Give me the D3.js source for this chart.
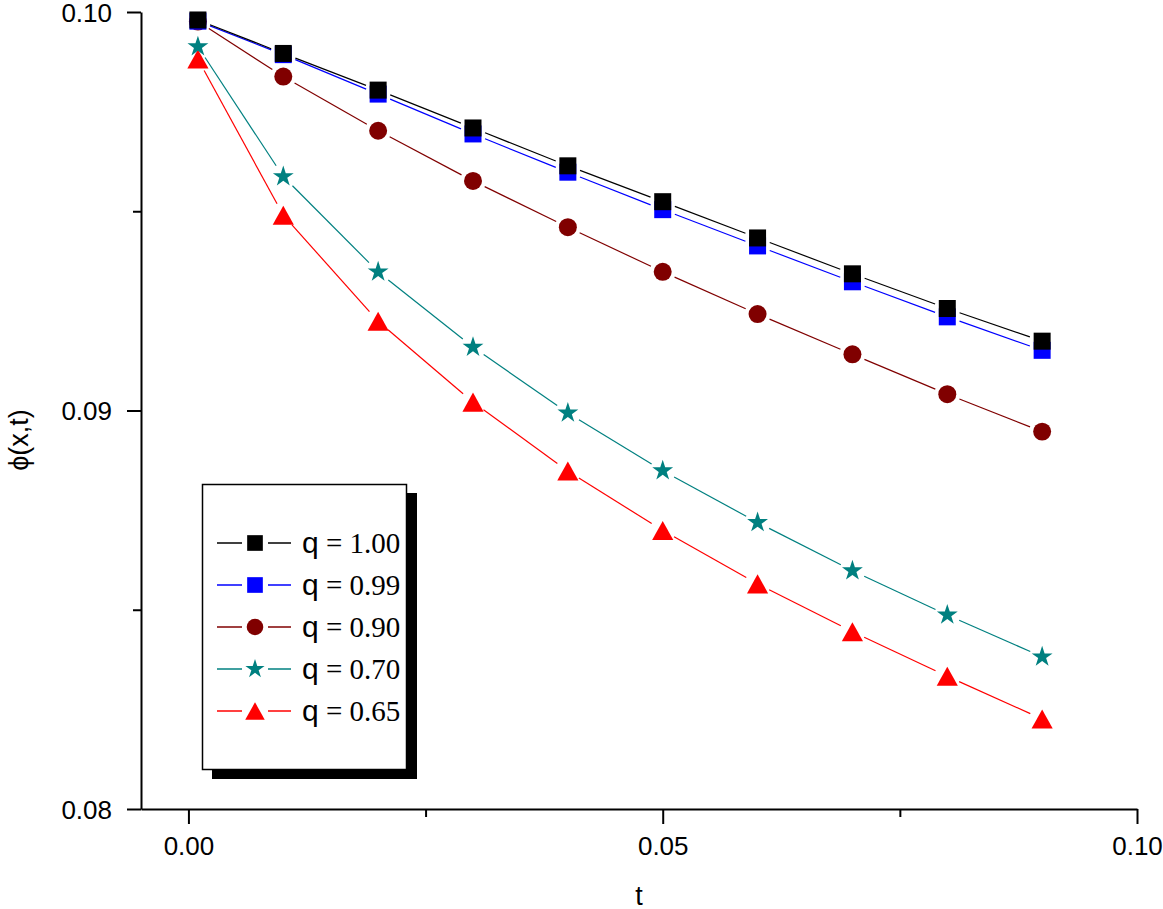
<!DOCTYPE html>
<html>
<head>
<meta charset="utf-8">
<script src="https://cdn.jsdelivr.net/npm/d3@7"></script>
<style>
  body { margin: 0; background: #fff; }
  svg { display: block; }
</style>
</head>
<body>
<svg id="chart" width="1163" height="909"></svg>
<script>
// data
const tValues = [0.001, 0.01, 0.02, 0.03, 0.04, 0.05, 0.06, 0.07, 0.08, 0.09];
const phiQ100 = [0.09980, 0.09896, 0.09804, 0.09709, 0.09614, 0.09524, 0.09433, 0.09343, 0.09256, 0.09174];
const phiQ099 = [0.09977, 0.09893, 0.09794, 0.09694, 0.09598, 0.09504, 0.09413, 0.09323, 0.09235, 0.09151];
const phiQ090 = [0.09976, 0.09838, 0.09702, 0.09576, 0.09460, 0.09348, 0.09242, 0.09141, 0.09041, 0.08947];
const phiQ070 = [0.09913, 0.09587, 0.09348, 0.09159, 0.08994, 0.08849, 0.08719, 0.08598, 0.08487, 0.08382];
const phiQ065 = [0.09882, 0.09490, 0.09224, 0.09021, 0.08848, 0.08699, 0.08565, 0.08445, 0.08333, 0.08226];

const seriesNames = ["q = 1.00", "q = 0.99", "q = 0.90", "q = 0.70", "q = 0.65"];
const xTicks = [0.00, 0.05, 0.10];
const xMinorTicks = [0.025, 0.075];
const yTicks = [0.08, 0.09, 0.10];
const yMinorTicks = [0.085, 0.095];

// triangle centred on its bounding box (Origin style)
const triangleBox = {
  draw(ctx, size) {
    const w = Math.sqrt(size * 1.15), h = w * 0.9;
    ctx.moveTo(0, -h / 2);
    ctx.lineTo(w / 2, h / 2);
    ctx.lineTo(-w / 2, h / 2);
    ctx.closePath();
  }
};

const series = [
  { name: seriesNames[0], values: phiQ100, color: "#000000", symbol: d3.symbolSquare, size: 289 },
  { name: seriesNames[1], values: phiQ099, color: "#0000ff", symbol: d3.symbolSquare, size: 289 },
  { name: seriesNames[2], values: phiQ090, color: "#800000", symbol: d3.symbolCircle, size: 254 },
  { name: seriesNames[3], values: phiQ070, color: "#008080", symbol: d3.symbolStar, size: 135 },
  { name: seriesNames[4], values: phiQ065, color: "#ff0000", symbol: triangleBox, size: 390 }
];

const svg = d3.select("#chart");
const plotLeft = 141, plotRight = 1137, plotTop = 12, plotBottom = 809;

const x = d3.scaleLinear().domain([-0.005, 0.10]).range([plotLeft, plotRight]);
const y = d3.scaleLinear().domain([0.08, 0.10]).range([plotBottom, plotTop]);

// axes
const fmt = d3.format(".2f");
const xAxis = svg.append("g")
  .attr("transform", `translate(0,${plotBottom})`)
  .call(d3.axisBottom(x).tickValues(xTicks).tickFormat(fmt).tickSize(15).tickSizeOuter(0).tickPadding(13));
const yAxis = svg.append("g")
  .attr("transform", `translate(${plotLeft},0)`)
  .call(d3.axisLeft(y).tickValues(yTicks).tickFormat(fmt).tickSize(14).tickSizeOuter(0).tickPadding(15));

svg.append("g")
  .attr("transform", `translate(0,${plotBottom})`)
  .call(d3.axisBottom(x).tickValues(xMinorTicks).tickFormat("").tickSize(8).tickSizeOuter(0))
  .call(g => g.select(".domain").remove());
svg.append("g")
  .attr("transform", `translate(${plotLeft},0)`)
  .call(d3.axisLeft(y).tickValues(yMinorTicks).tickFormat("").tickSize(8).tickSizeOuter(0))
  .call(g => g.select(".domain").remove());

svg.selectAll(".domain, .tick line")
  .attr("stroke", "#000")
  .attr("stroke-width", 2);
svg.selectAll(".tick text")
  .attr("font-family", "'Liberation Sans', Arial, sans-serif")
  .attr("font-size", 26)
  .attr("fill", "#000");
yAxis.selectAll(".tick text").attr("dy", "0.36em");

// axis titles
svg.append("text")
  .attr("x", (plotLeft + plotRight) / 2)
  .attr("y", 905)
  .attr("text-anchor", "middle")
  .attr("font-family", "'Liberation Sans', Arial, sans-serif")
  .attr("font-size", 27)
  .text("t");

svg.append("text")
  .attr("transform", "translate(18,440) rotate(-90)")
  .attr("text-anchor", "middle")
  .attr("dy", "0.36em")
  .attr("font-family", "'Liberation Sans', Arial, sans-serif")
  .attr("font-size", 27)
  .text("ϕ(x,t)");

// lines with gaps around the markers
const gap = 13;
function gappedSegments(values) {
  const pts = tValues.map((t, i) => [x(t), y(values[i])]);
  const segs = [];
  for (let i = 0; i < pts.length - 1; i++) {
    const [x0, y0] = pts[i], [x1, y1] = pts[i + 1];
    const len = Math.hypot(x1 - x0, y1 - y0);
    const ux = (x1 - x0) / len, uy = (y1 - y0) / len;
    segs.push([x0 + ux * gap, y0 + uy * gap, x1 - ux * gap, y1 - uy * gap]);
  }
  return segs;
}

// draw from last series to first so black sits on top
const plot = svg.append("g");
series.slice().reverse().forEach(s => {
  const g = plot.append("g");
  g.selectAll("line")
    .data(gappedSegments(s.values))
    .enter()
    .append("line")
    .attr("x1", d => d[0]).attr("y1", d => d[1])
    .attr("x2", d => d[2]).attr("y2", d => d[3])
    .attr("stroke", s.color)
    .attr("stroke-width", 1.2);
  g.selectAll("path")
    .data(tValues.map((t, i) => [t, s.values[i]]))
    .enter()
    .append("path")
    .attr("transform", d => `translate(${x(d[0])},${y(d[1])})`)
    .attr("d", d3.symbol().type(s.symbol).size(s.size))
    .attr("fill", s.color);
});

// legend
const legend = svg.append("g");
legend.append("rect")
  .attr("x", 212).attr("y", 493).attr("width", 205).attr("height", 286)
  .attr("fill", "#000");
legend.append("rect")
  .attr("x", 202.5).attr("y", 484.5).attr("width", 204).attr("height", 285)
  .attr("fill", "#fff").attr("stroke", "#000").attr("stroke-width", 1.5);

const legendY = d3.scalePoint().domain(seriesNames).range([543, 711]);
series.forEach(s => {
  const cy = legendY(s.name);
  const row = legend.append("g");
  row.append("line").attr("x1", 217).attr("x2", 242).attr("y1", cy).attr("y2", cy)
    .attr("stroke", s.color).attr("stroke-width", 1.5);
  row.append("line").attr("x1", 268).attr("x2", 291).attr("y1", cy).attr("y2", cy)
    .attr("stroke", s.color).attr("stroke-width", 1.5);
  row.append("path")
    .attr("transform", `translate(255,${cy})`)
    .attr("d", d3.symbol().type(s.symbol).size(s.size * 0.85))
    .attr("fill", s.color);
  const txt = row.append("text")
    .attr("x", 302).attr("y", cy).attr("dy", "0.36em")
    .attr("font-size", 29)
    .attr("fill", "#000");
  const parts = s.name.split(" = ");
  txt.append("tspan").attr("font-family", "'Liberation Sans', Arial, sans-serif").attr("font-size", 30).text(parts[0]);
  txt.append("tspan").attr("font-family", "'Liberation Serif', 'Times New Roman', serif").text(" = " + parts[1]);
});
</script>
</body>
</html>
